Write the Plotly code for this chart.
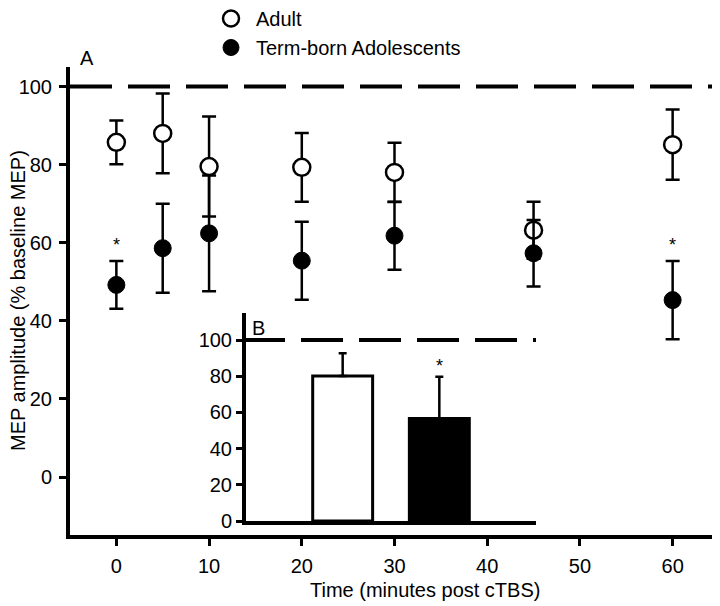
import plotly.graph_objects as go

# ---- data ----
time_min = [0, 5, 10, 20, 30, 45, 60]
adult_mean = [85.7, 88.0, 79.5, 79.3, 78.0, 63.2, 85.1]
adult_err = [5.6, 10.2, 12.8, 8.8, 7.6, 7.3, 9.0]
adol_mean = [49.2, 58.6, 62.4, 55.4, 61.8, 57.3, 45.3]
adol_err = [6.1, 11.4, 14.8, 10.0, 8.7, 8.5, 10.0]
sig_times = [0, 60]

groups = ["Adult", "Term-born Adolescents"]
overall_mean = [80.2, 56.6]
overall_err = [12.5, 23.1]
sig_groups = ["Term-born Adolescents"]

baseline = 100
x_ticks = [0, 10, 20, 30, 40, 50, 60]
y_ticks = [0, 20, 40, 60, 80, 100]
inset_y_ticks = [0, 20, 40, 60, 80, 100]

x_title = "Time (minutes post cTBS)"
y_title = "MEP amplitude (% baseline MEP)"

FONT = "Liberation Sans, Arial, sans-serif"

# page body has an 8px default margin -> figure sized to fit the window
W, H = 712, 598

fig = go.Figure()

fig.add_trace(go.Scatter(
    x=time_min, y=adult_mean, mode="markers", name="Adult",
    marker=dict(symbol="circle", size=17, color="white",
                line=dict(color="black", width=2.5)),
    error_y=dict(type="data", array=adult_err, color="black",
                 thickness=2.5, width=7),
    xaxis="x", yaxis="y"))

fig.add_trace(go.Scatter(
    x=time_min, y=adol_mean, mode="markers", name="Term-born Adolescents",
    marker=dict(symbol="circle", size=17, color="black",
                line=dict(color="black", width=1)),
    error_y=dict(type="data", array=adol_err, color="black",
                 thickness=2.5, width=7),
    xaxis="x", yaxis="y"))

# inset bars
fig.add_trace(go.Bar(
    x=groups, y=overall_mean, width=0.62, showlegend=False,
    marker=dict(color=["white", "black"], line=dict(color="black", width=3)),
    error_y=dict(type="data", symmetric=False, array=overall_err,
                 arrayminus=[0] * len(overall_err), color="black",
                 thickness=2.5, width=4),
    xaxis="x2", yaxis="y2"))

annotations = [
    dict(text="A", x=0.0, y=1.0, xref="paper", yref="paper",
         xanchor="left", yanchor="bottom", xshift=8, yshift=-4,
         showarrow=False, font=dict(size=20, family=FONT, color="black")),
    dict(text="B", x=0.0, y=1.0, xref="x2 domain", yref="y2 domain",
         xanchor="left", yanchor="top", xshift=4, yshift=-2,
         showarrow=False, font=dict(size=20, family=FONT, color="black")),
    dict(text=y_title, textangle=-90, x=0.0, y=0.5, xref="paper", yref="paper",
         xanchor="center", yanchor="middle", xshift=-52, showarrow=False,
         font=dict(size=20, family=FONT, color="black")),
    dict(text=x_title, x=0.547, y=0.0, xref="paper", yref="paper",
         xanchor="center", yanchor="middle", yshift=-55, showarrow=False,
         font=dict(size=20, family=FONT, color="black")),
]
for t in sig_times:
    i = time_min.index(t)
    annotations.append(dict(text="*", x=t, y=adol_mean[i] + adol_err[i] + 4,
                            xref="x", yref="y", showarrow=False,
                            yanchor="middle",
                            font=dict(size=18, family=FONT, color="black")))
for g in sig_groups:
    i = groups.index(g)
    annotations.append(dict(text="*", x=g, y=overall_mean[i] + overall_err[i] + 6,
                            xref="x2", yref="y2", showarrow=False,
                            yanchor="middle",
                            font=dict(size=18, family=FONT, color="black")))

shapes = [
    dict(type="line", xref="x domain", yref="y", x0=0, x1=1,
         y0=baseline, y1=baseline,
         line=dict(color="black", width=4, dash="42px,16px")),
    dict(type="line", xref="x2 domain", yref="y2", x0=-0.0103, x1=1,
         y0=baseline, y1=baseline,
         line=dict(color="black", width=4, dash="42px,16px")),
]

fig.update_layout(
    width=W, height=H,
    margin=dict(l=62, r=1, t=59, b=71, autoexpand=False),
    paper_bgcolor="white", plot_bgcolor="rgba(0,0,0,0)",
    font=dict(family=FONT, size=20, color="black"),
    showlegend=True,
    legend=dict(x=(198 - 62) / 649, y=(527 + 9) / 468, xref="paper", yref="paper",
                xanchor="left", yanchor="top",
                bgcolor="rgba(0,0,0,0)", font=dict(size=20, family=FONT),
                itemwidth=40, tracegroupgap=0),
    xaxis=dict(range=[-5, 65], tickvals=x_ticks, showline=True,
               linecolor="black", linewidth=4, ticks="outside",
               ticklen=7, tickwidth=3, tickcolor="black",
               ticklabelstandoff=3,
               showgrid=False, zeroline=False),
    yaxis=dict(range=[-14.85, 105], tickvals=y_ticks, showline=True,
               linecolor="black", linewidth=4, ticks="outside",
               ticklen=7, tickwidth=3, tickcolor="black",
               ticklabelstandoff=3,
               showgrid=False, zeroline=False),
    xaxis2=dict(domain=[0.2712, 0.718], anchor="y2", type="category",
                range=[-1, 2], showline=True, linecolor="black",
                linewidth=4, showticklabels=False, ticks="",
                showgrid=False, zeroline=False),
    yaxis2=dict(domain=[0.0299, 0.4744], anchor="x2", range=[0, 115],
                tickvals=inset_y_ticks, showline=True, linecolor="black",
                linewidth=4, ticks="outside", ticklen=6, tickwidth=3,
                tickcolor="black", showgrid=False, zeroline=False,
                tickfont=dict(size=20, family=FONT)),
    annotations=annotations,
    shapes=shapes,
)

fig.write_html("out.html")
